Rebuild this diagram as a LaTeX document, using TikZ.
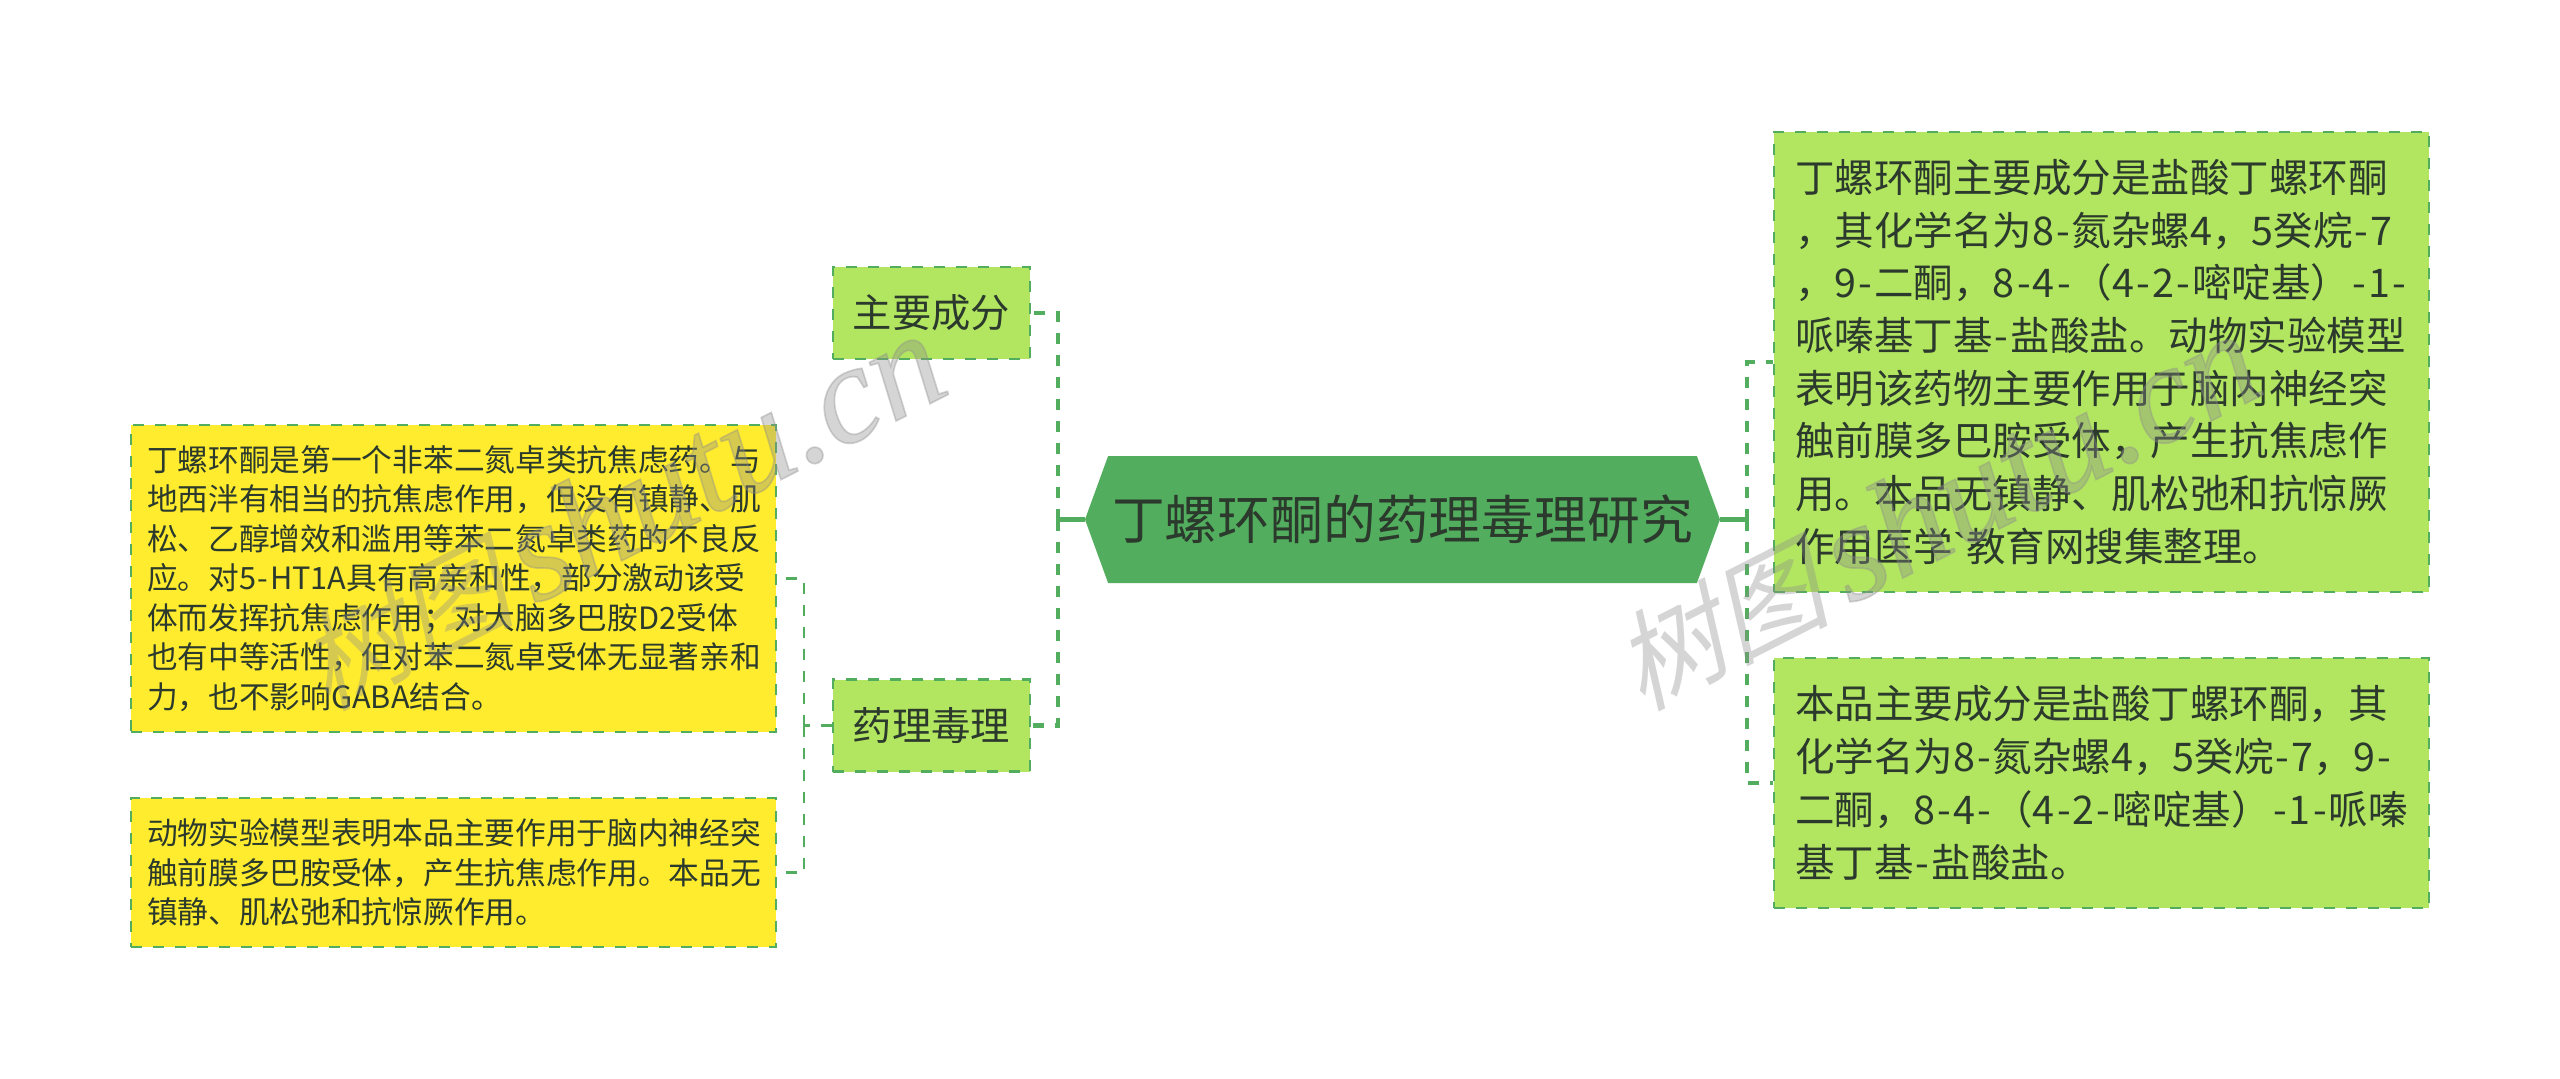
\documentclass[tikz,border=0pt]{standalone}
\usepackage{fontspec}
\setmainfont{Noto Sans CJK SC}
\newfontfamily\markcjk[FakeSlant=0.25]{Noto Sans CJK SC}
\newfontfamily\marklatin{Liberation Serif}[ItalicFont=* Italic,FakeBold=1.2]
\newfontfamily\tickfont{Liberation Sans}
\usetikzlibrary{shapes.symbols}
\definecolor{leafgreen}{HTML}{B2E660}
\definecolor{leafyellow}{HTML}{FFEC2E}
\definecolor{rootgreen}{HTML}{52AE5E}
\definecolor{inkdark}{HTML}{2B3A2C}
\exhyphenpenalty=10000
\newcommand{\hy}{\kern.055em-\kern.055em}
\newcommand{\brandtext}{\fontsize{108}{110}\selectfont\markcjk 树图\,\marklatin\itshape\fontsize{140}{142}\selectfont shutu.cn}
\begin{document}
\begin{tikzpicture}
[x=1pt,y=-1pt,
root/.style={shape=signal,signal to=east and west,signal pointer angle=140,fill=rootgreen,
text=inkdark,inner sep=0pt,minimum width=635pt,minimum height=127pt,font=\fontsize{52.8}{60}\selectfont},
label/.style={rectangle,draw=rootgreen,fill=leafgreen,line width=2.6pt,dash pattern=on 11pt off 11pt,
text=inkdark,inner sep=0pt,minimum width=197pt,minimum height=92pt,font=\fontsize{39.3}{50}\selectfont},
note/.style={rectangle,draw=rootgreen,fill=leafgreen,line width=2.6pt,dash pattern=on 11pt off 11pt,
text=inkdark,inner ysep=0pt,inner xsep=21pt,minimum width=655pt,text width=613pt,align=left,
font=\fontsize{39.5}{52.7}\selectfont},
small/.style={note,fill=leafyellow,inner xsep=16pt,minimum width=645pt,text width=613pt,
font=\fontsize{30.7}{39.5}\selectfont},
trunk/.style={draw=rootgreen,line width=4.4pt},
branch/.style={trunk,dash pattern=on 11pt off 11pt},
twig/.style={draw=rootgreen,line width=2.4pt,dash pattern=on 11pt off 11pt},
brand/.style={text=black!45,opacity=0.36,rotate=27,inner sep=0pt}]
\path [use as bounding box,fill=white] (0,0) rectangle (2560,1079);
\node at (1402.5,519.5) [root] (root){丁螺环酮的药理毒理研究};
\node at (931.5,313) [label] (part){主要成分};
\node at (931.5,725.5) [label] (drug){药理毒理};
\node at (453.5,578.5) [small,minimum height=307pt] (drugone){丁螺环酮是第一个非苯二氮卓类抗焦虑药。与\\
地西泮有相当的抗焦虑作用，但没有镇静、肌\\
松、乙醇增效和滥用等苯二氮卓类药的不良反\\
应。对5\hy HT1A具有高亲和性，部分激动该受\\
体而发挥抗焦虑作用；对大脑多巴胺D2受体\\
也有中等活性，但对苯二氮卓受体无显著亲和\\
力，也不影响GABA结合。};
\node at (453.5,872.5) [small,minimum height=149pt] (drugtwo){动物实验模型表明本品主要作用于脑内神经突\\
触前膜多巴胺受体，产生抗焦虑作用。本品无\\
镇静、肌松弛和抗惊厥作用。};
\node at (2101.5,362) [note,minimum height=460pt] (partone){丁螺环酮主要成分是盐酸丁螺环酮\\
，其化学名为8\hy 氮杂螺4，5癸烷\hy 7\\
，9\hy 二酮，8\hy 4\hy （4\hy 2\hy 嘧啶基）\hy 1\hy\\
哌嗪基丁基\hy 盐酸盐。动物实验模型\\
表明该药物主要作用于脑内神经突\\
触前膜多巴胺受体，产生抗焦虑作\\
用。本品无镇静、肌松弛和抗惊厥\\
作用医学{\tickfont\symbol{96}}教育网搜集整理。};
\node at (2101.5,783) [note,minimum height=250pt] (parttwo){本品主要成分是盐酸丁螺环酮，其\\
化学名为8\hy 氮杂螺4，5癸烷\hy 7，9\hy\\
二酮，8\hy 4\hy （4\hy 2\hy 嘧啶基）\hy 1\hy 哌嗪\\
基丁基\hy 盐酸盐。};
\coordinate (lefthub) at (1058,519.5);
\coordinate (righthub) at (1747,519.5);
\coordinate (drughub) at (804,725.5);
\draw [trunk] (root.west) -- (lefthub);
\draw [trunk] (root.east) -- (righthub);
\draw [branch] (lefthub) |- (part.east);
\draw [branch] (lefthub) |- (drug.east);
\draw [branch] (righthub) |- (partone.west);
\draw [branch] (righthub) |- (parttwo.west);
\draw [twig] (drug.west) -- (drughub);
\draw [twig] (drughub) |- (drugone.east);
\draw [twig] (drughub) |- (drugtwo.east);
\node at (620,512) [brand] (markleft){\brandtext};
\node at (1935,512) [brand] (markright){\brandtext};
\end{tikzpicture}
\end{document}
